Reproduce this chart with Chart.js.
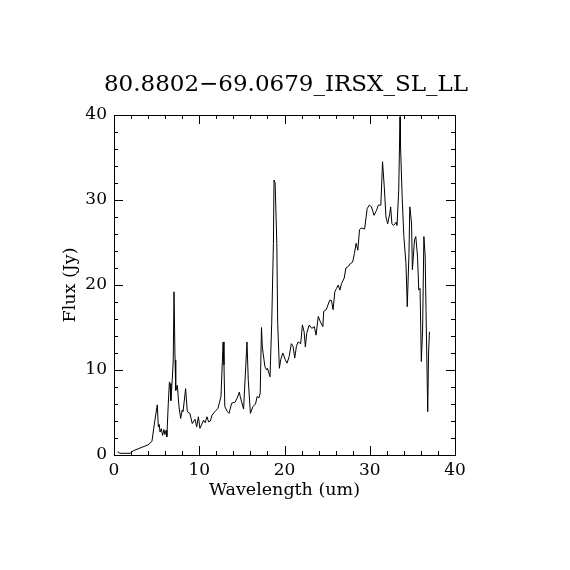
<!DOCTYPE html>
<html>
<head>
<meta charset="utf-8">
<script src="https://cdn.jsdelivr.net/npm/chart.js@4"></script>
<style>
  body { margin: 0; background: #fff; }
  #wrap { width: 570px; height: 570px; }
</style>
</head>
<body>
<div id="wrap"><canvas id="spectrumChart" width="570" height="570"></canvas></div>
<script>
// Spectrum data
const wavelength = [
  0.43, 0.7, 1.9, 2.26, 4.0, 4.45, 4.8, 5.08, 5.2, 5.3, 5.4, 5.55, 5.7, 5.85, 5.97, 6.1, 6.2,
  6.37, 6.5, 6.57, 6.67, 6.83, 6.95, 7.04, 7.16, 7.24, 7.43, 7.62, 7.82, 8.0, 8.1, 8.4, 8.6,
  8.9, 9.18, 9.5, 9.7, 9.9, 10.08, 10.3, 10.5, 10.7, 10.9, 11.1, 11.3, 11.5, 11.84, 12.2, 12.55,
  12.8, 12.9, 13.0, 13.3, 13.5, 13.8, 14.2, 14.4, 14.7, 14.8, 15.2, 15.6, 15.75, 16.0, 16.3, 16.6,
  16.8, 17.0, 17.15, 17.3, 17.4, 17.5, 17.7, 17.9, 18.0, 18.3, 18.5, 18.7, 18.77, 18.9, 19.1, 19.2,
  19.4, 19.55, 19.8, 20.1, 20.3, 20.55, 20.8, 21.0, 21.2, 21.4, 21.6, 21.9, 22.1, 22.3, 22.45, 22.6,
  22.9, 23.2, 23.5, 23.7, 23.96, 24.2, 24.5, 24.6, 24.9, 25.3, 25.5, 25.7, 25.9, 26.1, 26.3, 26.5,
  26.7, 27.0, 27.2, 27.5, 27.7, 28.0, 28.2, 28.4, 28.6, 28.8, 29.0, 29.4, 29.7, 29.95, 30.2, 30.5,
  30.8, 31.0, 31.3, 31.5, 31.7, 31.9, 32.1, 32.35, 32.45, 32.6, 32.8, 33.1, 33.2, 33.4, 33.55, 33.6,
  33.8, 34.0, 34.25, 34.4, 34.6, 34.7, 34.9, 35.0, 35.25, 35.4, 35.6, 35.75, 35.9, 36.05, 36.2, 36.35,
  36.5, 36.6, 36.8, 36.9, 37.0
];
const flux = [
  0.39, 0.2, 0.2, 0.5, 1.2, 1.6, 4.1, 5.9, 3.3, 3.6, 2.7, 3.1, 2.3, 3.0, 2.4, 2.9, 2.15,
  6.1, 8.6, 8.4, 6.4, 8.8, 11.2, 19.2, 11.2, 7.6, 8.2, 5.7, 4.3, 5.3, 5.1, 7.8, 5.1,
  4.9, 3.7, 4.2, 3.3, 4.5, 3.14, 3.6, 4.1, 3.8, 4.5, 3.9, 4.0, 4.7, 5.1, 5.5, 6.9,
  13.3, 10.6, 5.7, 5.1, 4.9, 6.1, 6.2, 6.6, 7.4, 6.9, 5.4, 13.3, 8.8, 4.9, 5.7, 6.0,
  6.9, 6.7, 7.3, 15.0, 12.7, 11.9, 10.4, 10.0, 10.2, 9.2, 15.5, 24.9, 32.35, 32.0, 24.9, 15.5,
  10.2, 11.2, 12.0, 11.2, 10.8, 11.6, 13.1, 12.8, 11.4, 12.8, 13.3, 13.1, 15.3, 14.5, 12.7, 14.3,
  15.3, 14.9, 15.1, 14.1, 16.3, 15.7, 15.1, 16.9, 17.1, 18.2, 18.2, 17.1, 19.2, 19.6, 20.0, 19.4,
  20.2, 20.8, 22.0, 22.2, 22.5, 22.7, 23.7, 24.9, 24.1, 26.5, 26.7, 26.6, 29.0, 29.4, 29.2, 28.2,
  28.8, 29.4, 29.4, 34.5, 31.6, 28.0, 27.2, 28.4, 29.2, 27.2, 27.0, 27.4, 27.0, 31.2, 39.8, 36.7,
  30.4, 25.7, 22.5, 17.45, 23.7, 29.2, 27.3, 21.8, 25.3, 25.7, 23.4, 19.4, 19.6, 11.0, 14.7, 25.7,
  23.4, 17.1, 5.1, 12.0, 14.5
];

const titleText = '80.8802\u221269.0679_IRSX_SL_LL';
const xLabel = 'Wavelength (um)';
const yLabel = 'Flux (Jy)';
const xTicks = [0, 10, 20, 30, 40];
const yTicks = [0, 10, 20, 30, 40];

const FONT = "'DejaVu Serif', 'Liberation Serif', serif";

// frame with inward ticks on all four sides, plus the title
const framePlugin = {
  id: 'frame',
  afterDraw(chart) {
    const { ctx, chartArea: a, scales } = chart;
    const xs = scales.x, ys = scales.y;
    ctx.save();
    ctx.strokeStyle = '#000';
    ctx.lineWidth = 1;
    ctx.strokeRect(a.left + 0.5, a.top + 0.5, a.right - a.left, a.bottom - a.top);
    ctx.beginPath();
    for (let v = 0; v <= 40; v += 2) {
      const len = v % 10 === 0 ? 9 : 4;
      const px = Math.round(xs.getPixelForValue(v)) + 0.5;
      ctx.moveTo(px, a.bottom); ctx.lineTo(px, a.bottom - len);
      ctx.moveTo(px, a.top); ctx.lineTo(px, a.top + len);
      const py = Math.round(ys.getPixelForValue(v)) + 0.5;
      ctx.moveTo(a.left, py); ctx.lineTo(a.left + len, py);
      ctx.moveTo(a.right, py); ctx.lineTo(a.right - len, py);
    }
    ctx.stroke();
    ctx.fillStyle = '#000';
    ctx.font = '23px ' + FONT;
    ctx.textAlign = 'center';
    ctx.textBaseline = 'alphabetic';
    ctx.fillText(titleText, 286, 91);
    ctx.restore();
  }
};

const ctx = document.getElementById('spectrumChart').getContext('2d');
const spectrumChart = new Chart(ctx, {
  type: 'line',
  data: {
    datasets: [{
      data: wavelength.map((w, i) => ({ x: w, y: flux[i] })),
      borderColor: '#000',
      borderWidth: 1,
      pointRadius: 0,
      tension: 0,
      fill: false
    }]
  },
  options: {
    responsive: false,
    animation: false,
    events: [],
    layout: { padding: { left: 60, right: 115, top: 115, bottom: 69 } },
    plugins: { legend: { display: false }, tooltip: { enabled: false }, title: { display: false } },
    scales: {
      x: {
        type: 'linear',
        min: 0, max: 40,
        afterBuildTicks: s => { s.ticks = xTicks.map(v => ({ value: v })); },
        afterFit: s => { s.height = 46; },
        grid: { display: false, drawTicks: false },
        border: { display: false },
        ticks: { color: '#000', padding: 5, font: { family: FONT, size: 17 }, maxRotation: 0 },
        title: { display: true, text: xLabel, color: '#000', padding: 0, font: { family: FONT, size: 17.5 } }
      },
      y: {
        type: 'linear',
        min: 0, max: 40,
        afterBuildTicks: s => { s.ticks = yTicks.map(v => ({ value: v })); },
        afterFit: s => { s.width = 54; },
        grid: { display: false, drawTicks: false },
        border: { display: false },
        ticks: { color: '#000', padding: 7, font: { family: FONT, size: 17 } },
        title: { display: true, text: yLabel, color: '#000', padding: 0, font: { family: FONT, size: 17.5 } }
      }
    }
  },
  plugins: [framePlugin]
});
</script>
</body>
</html>
